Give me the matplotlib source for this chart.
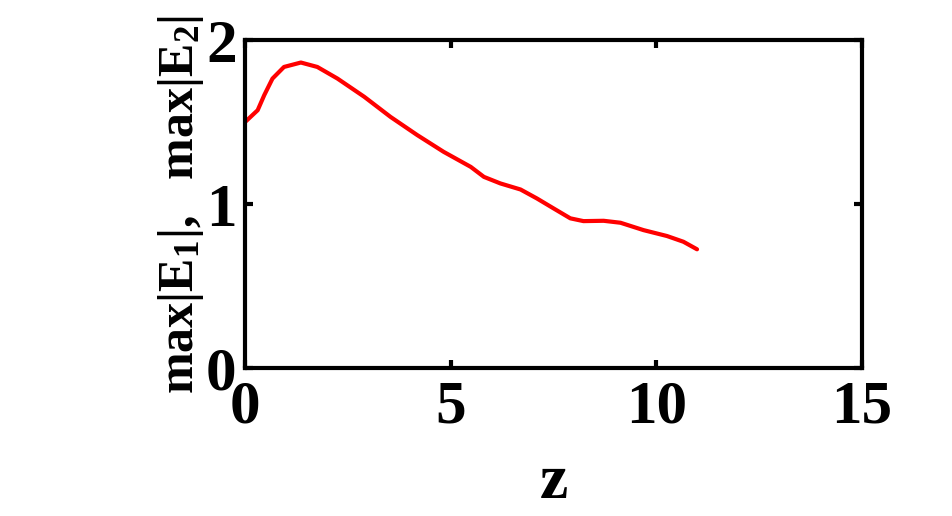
import matplotlib
matplotlib.use("Agg")
import matplotlib.pyplot as plt

# propagation distance and peak field amplitude
z = [0.0, 0.31, 0.47, 0.67, 0.95, 1.36, 1.76, 2.25, 2.90, 3.54, 4.19, 4.83,
     5.49, 5.81, 6.21, 6.70, 7.10, 7.50, 7.91, 8.23, 8.72, 9.13, 9.69,
     10.26, 10.66, 10.99]
max_e = [1.50, 1.573, 1.665, 1.766, 1.837, 1.864, 1.837, 1.766, 1.655, 1.532,
         1.421, 1.319, 1.227, 1.166, 1.126, 1.089, 1.034, 0.974, 0.913, 0.896,
         0.898, 0.886, 0.841, 0.805, 0.770, 0.724]

x_ticks = [0, 5, 10, 15]
y_ticks = [0, 1, 2]

plt.rcParams['font.family'] = ['Liberation Serif', 'DejaVu Serif']
plt.rcParams['font.weight'] = 'bold'
plt.rcParams['mathtext.fontset'] = 'custom'
plt.rcParams['mathtext.rm'] = 'Liberation Serif:bold'
plt.rcParams['mathtext.bf'] = 'Liberation Serif:bold'
plt.rcParams['mathtext.it'] = 'Liberation Serif:bold'

fig = plt.figure(figsize=(9.53, 5.16), dpi=100)
ax = fig.add_axes([0.257, 0.287, 0.6475, 0.635])

ax.plot(z, max_e, color='#ff0000', lw=3, solid_joinstyle='round',
        solid_capstyle='round')

ax.set_xlim(0, 15)
ax.set_ylim(0, 2)
ax.set_xticks(x_ticks)
ax.set_yticks(y_ticks)
ax.tick_params(direction='in', length=6, width=3, top=True, right=True,
               labelsize=44)
ax.tick_params(axis='x', pad=8)
ax.tick_params(axis='y', pad=6)
for lbl in ax.get_xticklabels() + ax.get_yticklabels():
    lbl.set_fontweight('bold')
for s in ax.spines.values():
    s.set_linewidth(3)

ax.set_xlabel('z', fontsize=46, fontweight='bold', labelpad=14)
ax.set_ylabel(r'$\mathbf{max|E_1|,\ \ max|E_2|}$', fontsize=36, labelpad=0)

fig.savefig('out.png', dpi=100)
